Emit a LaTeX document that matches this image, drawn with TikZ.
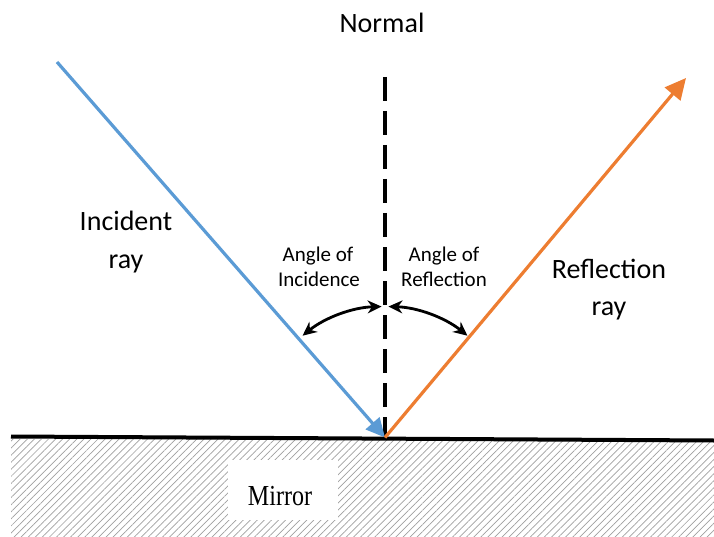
\documentclass[tikz,border=0pt]{standalone}
\usepackage{fontspec}
\setmainfont{Carlito}
\newfontfamily\serifface{Liberation Serif}
\usetikzlibrary{arrows.meta,patterns.meta}
\definecolor{rayblue}{HTML}{5B9BD5}
\definecolor{rayorange}{HTML}{ED7D31}
\begin{document}
\begin{tikzpicture}[x=1pt,y=-1pt,
  big/.style={font=\fontsize{28}{28}\selectfont, inner sep=0pt, anchor=base},
  small/.style={font=\fontsize{21}{21}\selectfont, inner sep=0pt, anchor=base},
  angarrow/.style={line width=2.8pt, {Stealth[length=14pt,width=13pt]}-{Stealth[length=14pt,width=13pt]}},
  ray/.style={line width=3.2pt},
]
\useasboundingbox (0,0) rectangle (714,537);
% mirror body
\fill[pattern={Lines[angle=45,distance=5pt,line width=0.7pt]}, pattern color=gray!75] (11,439) rectangle (714,537);
\node[fill=white, minimum width=110pt, minimum height=60pt, inner sep=0pt] (mbox) at (283,490) {};
\node[font=\serifface\fontsize{29}{29}\selectfont, xscale=0.83, anchor=base, inner sep=0pt] (mirror) at (280,505) {Mirror};
% key points
\coordinate (ML) at (11,436.5);
\coordinate (MR) at (714,440.5);
\coordinate (O) at (385,437.5);
\coordinate (ntop) at (385,77);
\coordinate (A) at (57,62);
\coordinate (B) at (686,78);
% mirror surface
\draw[line width=4pt] (ML) -- (MR);
% normal
\draw[line width=3.2pt, dash pattern=on 24pt off 10pt] (ntop) -- (O);
% rays
\draw[ray, rayblue, -{Triangle[length=19pt,width=18pt]}] (A) -- (O);
\draw[ray, rayorange, -{Triangle[length=21pt,width=20pt]}] (O) -- (B);
% angle arcs
\draw[angarrow] ([shift={(-129:131)}]O) arc[start angle=-129, end angle=-91.5, radius=131];
\draw[angarrow] ([shift={(-88.5:131)}]O) arc[start angle=-88.5, end angle=-51, radius=131];
% labels
\node[big] (normal) at (382,33) {Normal};
\node[big] (inc1) at (126,230) {Incident};
\node[big] (inc2) at (126,268) {ray};
\node[big] (ref1) at (609,278) {Reflection};
\node[big] (ref2) at (609,315) {ray};
\node[small] (ai1) at (318,261) {Angle of};
\node[small] (ai2) at (319,286) {Incidence};
\node[small] (ar1) at (444,261) {Angle of};
\node[small] (ar2) at (444,286) {Reflection};
\end{tikzpicture}
\end{document}
